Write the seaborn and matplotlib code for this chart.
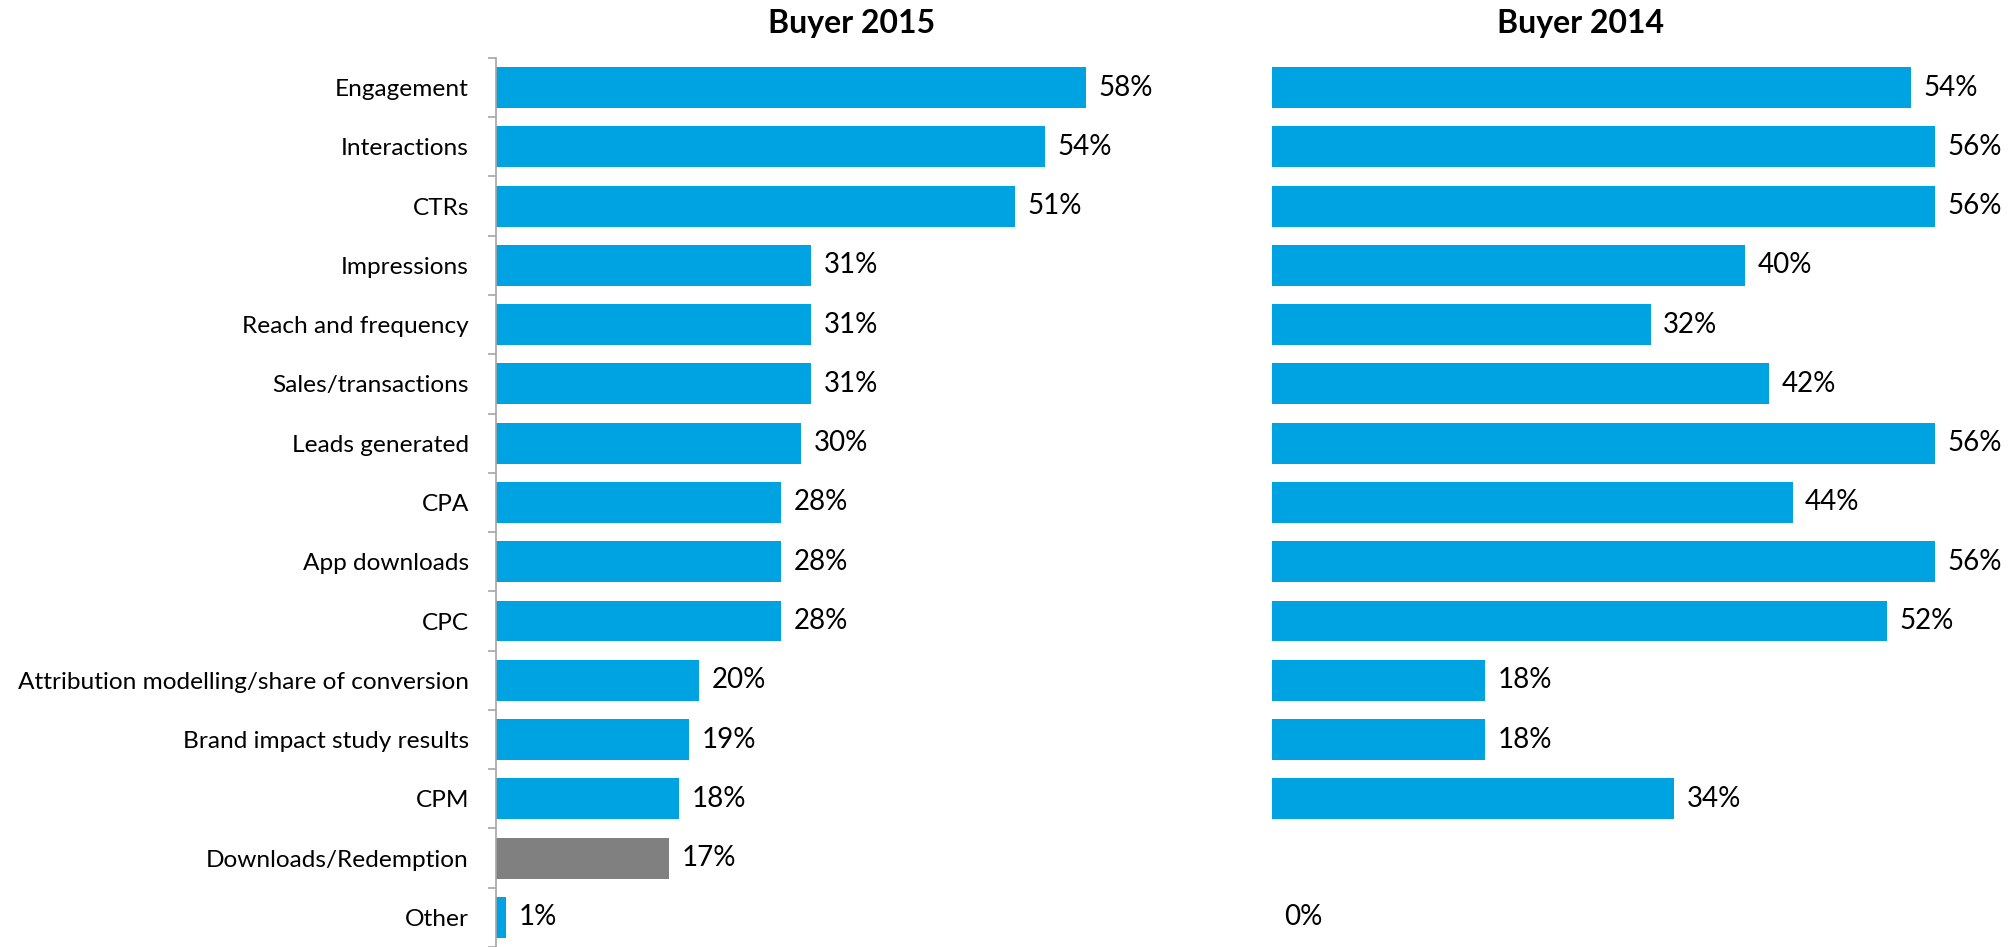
import numpy as np
import pandas as pd
import matplotlib
matplotlib.use("Agg")
import matplotlib.pyplot as plt
import seaborn as sns

# Metrics used to measure campaign success, share of buyers
categories = ["Engagement", "Interactions", "CTRs", "Impressions", "Reach and frequency",
              "Sales/transactions", "Leads generated", "CPA", "App downloads", "CPC",
              "Attribution modelling/share of conversion", "Brand impact study results",
              "CPM", "Downloads/Redemption", "Other"]
buyer_2015 = [58, 54, 51, 31, 31, 31, 30, 28, 28, 28, 20, 19, 18, 17, 1]
buyer_2014 = [54, 56, 56, 40, 32, 42, 56, 44, 56, 52, 18, 18, 34, np.nan, 0]
titles = ["Buyer 2015", "Buyer 2014"]

BLUE = "#00A3E2"
GREY = "#808080"
new_items = ["Downloads/Redemption"]

sns.set_theme(style="white")
plt.rcParams["font.family"] = ["Lato", "DejaVu Sans"]

fig = plt.figure(figsize=(20.10, 9.47), dpi=100)
ax_l = fig.add_axes([0.2468, 0.0, 0.3542, 0.9388])
ax_r = fig.add_axes([0.6328, 0.0, 0.3532, 0.9388])

palette = {c: (GREY if c in new_items else BLUE) for c in categories}

panels = [(ax_l, buyer_2015, 70), (ax_r, buyer_2014, 60)]
for ax, vals, xmax in panels:
    df = pd.DataFrame({"metric": categories, "share": vals})
    sns.barplot(data=df, x="share", y="metric", hue="metric", palette=palette,
                order=categories, hue_order=categories, orient="h", width=0.69,
                saturation=1, legend=False, ax=ax, edgecolor="none")
    for cont in ax.containers:
        labels = ["" if np.isnan(v) else f"{v:.0f}%" for v in cont.datavalues]
        ax.bar_label(cont, labels=labels, padding=9, fontsize=20, color="black")
    ax.set_xlim(0, xmax)
    ax.set_ylim(len(categories) - 0.5, -0.5)
    ax.set_xlabel("")
    ax.set_ylabel("")
    ax.set_xticks([])
    for side in ["top", "right", "bottom"]:
        ax.spines[side].set_visible(False)

# Left panel: category axis with boundary ticks
ax_l.spines["left"].set_color("#A6A6A6")
ax_l.spines["left"].set_linewidth(1.2)
ax_l.tick_params(axis="y", which="major", left=False, length=0, pad=19.5,
                 labelsize=17.6, labelcolor="black")
ax_l.set_yticks(np.arange(-0.5, len(categories), 1.0), minor=True)
ax_l.tick_params(axis="y", which="minor", left=True, length=5.5, width=1.2,
                 color="#A6A6A6", direction="out")

# Right panel: no category axis
ax_r.spines["left"].set_visible(False)
ax_r.set_yticks([])

fig.text(852 / 2010, 1 - 23 / 947, titles[0], ha="center", va="center",
         fontsize=23, fontweight="bold", color="black")
fig.text(1581 / 2010, 1 - 23 / 947, titles[1], ha="center", va="center",
         fontsize=23, fontweight="bold", color="black")

fig.savefig("out.png", dpi=100, facecolor="white")
